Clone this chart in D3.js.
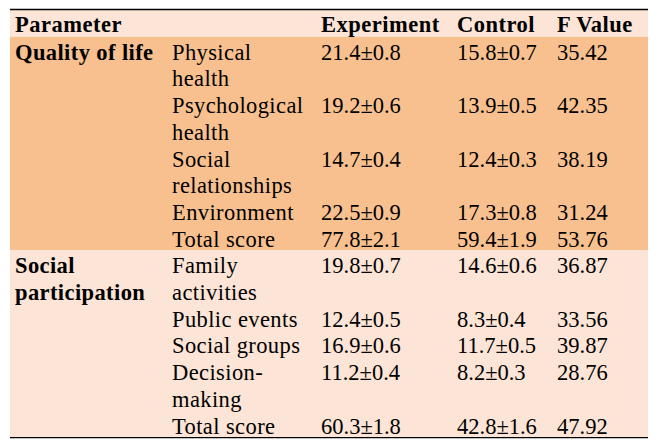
<!DOCTYPE html>
<html><head><meta charset="utf-8">
<script src="https://cdn.jsdelivr.net/npm/d3@7"></script>
<style>html,body{margin:0;padding:0;background:#fff;}</style>
</head><body>
<svg id="chart" width="661" height="448"></svg>
<script>
// ---- data ----
const headers = ["Parameter", "", "Experiment", "Control", "F Value"];
const groups = ["Quality of life", "Social participation"];
const groupOf = [0, 0, 0, 0, 0, 1, 1, 1, 1, 1];
const items = ["Physical health", "Psychological health", "Social relationships", "Environment", "Total score",
               "Family activities", "Public events", "Social groups", "Decision-making", "Total score"];
const expMean = [21.4, 19.2, 14.7, 22.5, 77.8, 19.8, 12.4, 16.9, 11.2, 60.3];
const expSD   = [0.8, 0.6, 0.4, 0.9, 2.1, 0.7, 0.5, 0.6, 0.4, 1.8];
const ctrlMean = [15.8, 13.9, 12.4, 17.3, 59.4, 14.6, 8.3, 11.7, 8.2, 42.8];
const ctrlSD   = [0.7, 0.5, 0.3, 0.8, 1.9, 0.6, 0.4, 0.5, 0.3, 1.6];
const fValue  = [35.42, 42.35, 38.19, 31.24, 53.76, 36.87, 33.56, 39.87, 28.76, 47.92];

// ---- layout ----
const svg = d3.select("#chart");
const FONT = "'Liberation Serif', 'Times New Roman', serif";
const FS = 22.5, LH = 26.7, BASE = 23;
const tLeft = 10, tRight = 648, tTop = 10;
const colKeys = ["group", "item", "exp", "ctrl", "f"];
const x = d3.scaleOrdinal().domain(colKeys).range([15, 172, 321, 457, 557]);
const colWidth = {group: 150, item: 136};
const bandColors = ["#F8C08F", "#FCE4D6"];
const headerColor = "#FCE4D6";
const LS_TXT = 0.4, LS_HEAD = 0.5;

// measure & wrap helper
const meas = svg.append("text").attr("font-family", FONT).attr("font-size", FS);
function textWidth(str, bold, ls) {
  meas.attr("font-weight", bold ? "bold" : "normal").attr("letter-spacing", ls).text(str);
  return meas.node().getComputedTextLength();
}
function wrap(str, maxW, bold, ls) {
  const tokens = str.match(/[^\s-]+-?/g);
  const lines = [];
  let cur = "";
  tokens.forEach(t => {
    const joiner = cur === "" ? "" : (cur.endsWith("-") ? "" : " ");
    const cand = cur + joiner + t;
    if (cur !== "" && textWidth(cand, bold, ls) > maxW) { lines.push(cur); cur = t; }
    else cur = cand;
  });
  if (cur) lines.push(cur);
  return lines;
}

const rows = items.map((it, i) => ({
  i, group: groupOf[i],
  itemLines: wrap(it, colWidth.item, false, LS_TXT),
  exp: `${expMean[i].toFixed(1)}±${expSD[i].toFixed(1)}`,
  ctrl: `${ctrlMean[i].toFixed(1)}±${ctrlSD[i].toFixed(1)}`,
  f: fValue[i].toFixed(2)
}));
let lineAcc = 1; // header takes one line
rows.forEach(r => { r.start = lineAcc; r.n = r.itemLines.length; lineAcc += r.n; });
const totalLines = lineAcc;

const groupData = groups.map((g, gi) => {
  const rs = rows.filter(r => r.group === gi);
  return {gi, name: g, start: rs[0].start, end: rs[rs.length - 1].start + rs[rs.length - 1].n,
          lines: wrap(g, colWidth.group, true, LS_TXT)};
});
meas.remove();

const y = d3.scaleLinear().domain([0, totalLines]).range([tTop, tTop + totalLines * LH]);

// backgrounds
svg.append("rect").attr("x", tLeft).attr("y", y(0)).attr("width", tRight - tLeft)
   .attr("height", y(1) - y(0)).attr("fill", headerColor);
svg.selectAll("rect.band").data(groupData).join("rect").attr("class", "band")
   .attr("x", tLeft).attr("y", d => y(d.start)).attr("width", tRight - tLeft)
   .attr("height", d => y(d.end) - y(d.start)).attr("fill", d => bandColors[d.gi]);

// rules
svg.append("line").attr("x1", tLeft).attr("x2", tRight).attr("y1", y(0) - 0.5).attr("y2", y(0) - 0.5)
   .attr("stroke", "#000").attr("stroke-width", 1.3);
svg.append("line").attr("x1", tLeft).attr("x2", tRight).attr("y1", y(totalLines) + 0.5).attr("y2", y(totalLines) + 0.5)
   .attr("stroke", "#000").attr("stroke-width", 1.3);

const tg = svg.append("g").attr("font-family", FONT).attr("font-size", FS).attr("fill", "#000");

// header
tg.selectAll("text.head").data(headers.map((h, k) => ({h, k})).filter(d => d.h)).join("text")
  .attr("class", "head").attr("x", d => x(colKeys[d.k])).attr("y", y(0) + BASE - 1)
  .attr("font-weight", "bold").attr("letter-spacing", LS_HEAD).text(d => d.h);

// group labels
groupData.forEach(g => {
  tg.append("g").selectAll("text").data(g.lines).join("text")
    .attr("x", x("group")).attr("y", (d, j) => y(g.start + j) + BASE)
    .attr("font-weight", "bold").attr("letter-spacing", LS_TXT).text(d => d);
});

// item labels
rows.forEach(r => {
  tg.append("g").selectAll("text").data(r.itemLines).join("text")
    .attr("x", x("item")).attr("y", (d, j) => y(r.start + j) + BASE)
    .attr("letter-spacing", LS_TXT).text(d => d);
});

// numeric cells
["exp", "ctrl", "f"].forEach(k => {
  tg.append("g").selectAll("text").data(rows).join("text")
    .attr("x", x(k)).attr("y", r => y(r.start) + BASE).text(r => r[k]);
});
</script>
</body></html>
